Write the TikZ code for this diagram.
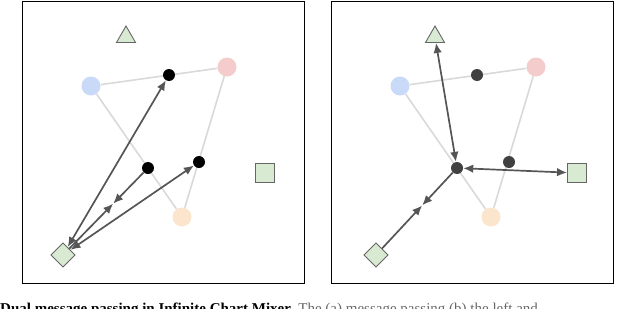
\documentclass[tikz,border=0pt]{standalone}
\usepackage{fontspec}
\setmainfont{Liberation Serif}
\usetikzlibrary{arrows.meta,shapes.geometric,calc}
\definecolor{nblue}{HTML}{C9DAF8}
\definecolor{nred}{HTML}{F4CCCC}
\definecolor{norange}{HTML}{FCE5CD}
\definecolor{ngreen}{HTML}{D9EAD3}
\definecolor{sgray}{HTML}{666666}
\definecolor{egray}{HTML}{D9D9D9}
\definecolor{agray}{HTML}{555555}
\definecolor{dgray}{HTML}{404040}
\tikzset{
  x=1pt,y=-1pt,
  panel/.style={draw=black,line width=1pt},
  cnode/.style={circle,inner sep=0pt,minimum size=19pt},
  bdot/.style={circle,fill=black,inner sep=0pt,minimum size=12pt},
  ddot/.style={circle,fill=dgray,inner sep=0pt,minimum size=12pt},
  tri/.style={regular polygon,regular polygon sides=3,draw=sgray,fill=ngreen,line width=0.9pt,inner sep=0pt,minimum size=22pt},
  sq/.style={rectangle,draw=sgray,fill=ngreen,line width=0.9pt,inner sep=0pt,minimum size=19pt},
  dia/.style={rectangle,rotate=45,draw=sgray,fill=ngreen,line width=0.9pt,inner sep=0pt,minimum size=17pt},
  edge/.style={draw=egray,line width=1.6pt},
  tip/.tip={Latex[length=10pt,width=8.5pt]},
  arr/.style={draw=agray,line width=1.7pt,-tip},
  darr/.style={draw=agray,line width=1.7pt,tip-tip},
}
\begin{document}
\begin{tikzpicture}
\useasboundingbox (0,0) rectangle (640,308);
% panels
\node[panel,minimum width=282pt,minimum height=282pt,inner sep=0pt] (pl) at (163,142) {};
\node[panel,minimum width=282pt,minimum height=282pt,inner sep=0pt] (pr) at (472,142) {};
% ---------- left panel ----------
\node[cnode,fill=nblue] (lb) at (91,86) {};
\node[cnode,fill=nred] (lr) at (227,67) {};
\node[cnode,fill=norange] (lo) at (182,217) {};
\draw[edge] (lb) -- (lr);
\draw[edge] (lb) -- (lo);
\draw[edge] (lr) -- (lo);
\node[bdot] (l1) at (169,75) {};
\node[bdot] (l2) at (148,168) {};
\node[bdot] (l3) at (199,162) {};
\node[tri] (lt) at (126,37) {};
\node[sq] (ls) at (265,173) {};
\node[dia] (ld) at (63,255) {};
\coordinate (lm) at ($(l2)!0.41!(ld)$);
\draw[darr] (ld) -- (l1);
\draw[darr] (ld) -- (l3);
\draw[arr] (l2) -- (lm);
\draw[arr] (ld) -- (lm);
% ---------- right panel ----------
\node[cnode,fill=nblue] (rb) at (400,86) {};
\node[cnode,fill=nred] (rr) at (536,67) {};
\node[cnode,fill=norange] (ro) at (491,217) {};
\draw[edge] (rb) -- (rr);
\draw[edge] (rb) -- (ro);
\draw[edge] (rr) -- (ro);
\node[ddot] (r1) at (477,75) {};
\node[ddot] (r3) at (509,162) {};
\node[tri] (rt) at (435,37) {};
\node[sq] (rs) at (577,173) {};
\node[dia] (rd) at (376,255) {};
\node[ddot] (rc) at (457,168) {};
\coordinate (rm) at ($(rc)!0.43!(rd)$);
\draw[darr] (rc) -- (rt);
\draw[darr] (rc) -- (rs);
\draw[arr] (rc) -- (rm);
\draw[arr] (rd) -- (rm);
% caption (cut off at the bottom edge)
\begin{scope}
\clip (0,0) rectangle (640,308);
\node[anchor=base west,inner sep=0pt,font=\fontsize{15}{17}\selectfont] (cap) at (0,313)
  {\textbf{Dual message passing in Infinite Chart Mixer.} {\color{sgray}The (a) message passing (b) the left and}};
\end{scope}
\end{tikzpicture}
\end{document}
